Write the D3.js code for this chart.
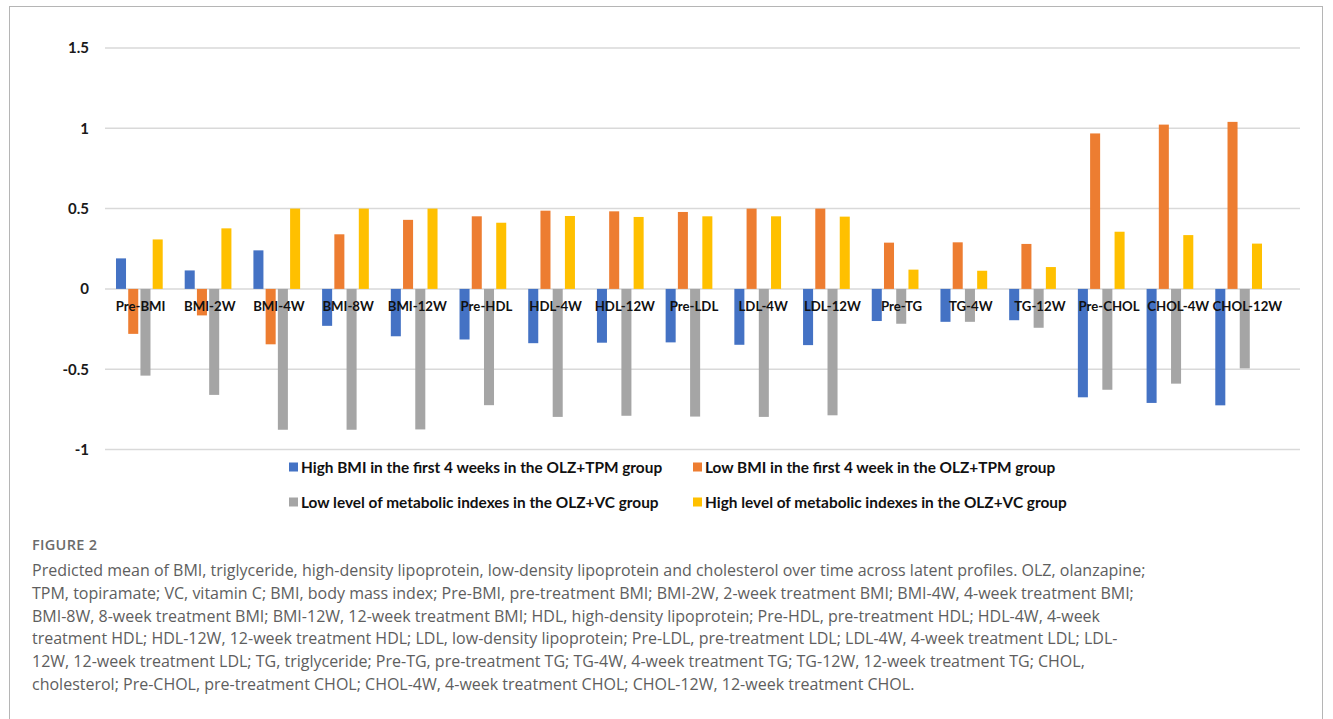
<!DOCTYPE html>
<html><head><meta charset="utf-8">
<script src="https://cdn.jsdelivr.net/npm/d3@7"></script>
<style>body{margin:0;background:#fff;} svg{display:block}</style>
</head><body><svg id="chart" width="1333" height="719"></svg>
<script>
const categories = ["Pre-BMI","BMI-2W","BMI-4W","BMI-8W","BMI-12W","Pre-HDL","HDL-4W","HDL-12W","Pre-LDL","LDL-4W","LDL-12W","Pre-TG","TG-4W","TG-12W","Pre-CHOL","CHOL-4W","CHOL-12W"];
const seriesNames = [
  "High BMI in the first 4 weeks in the OLZ+TPM group",
  "Low BMI in the first 4 week in the OLZ+TPM group",
  "Low level of metabolic indexes in the OLZ+VC group",
  "High level of metabolic indexes in the OLZ+VC group"
];
const highBmiTpm  = [0.19, 0.115, 0.24, -0.23, -0.295, -0.315, -0.338, -0.335, -0.333, -0.348, -0.35, -0.20, -0.205, -0.195, -0.675, -0.71, -0.725];
const lowBmiTpm   = [-0.28, -0.165, -0.345, 0.34, 0.43, 0.452, 0.487, 0.483, 0.479, 0.50, 0.50, 0.288, 0.29, 0.28, 0.968, 1.023, 1.04];
const lowMetabVc  = [-0.54, -0.66, -0.877, -0.877, -0.875, -0.724, -0.797, -0.79, -0.795, -0.797, -0.787, -0.217, -0.205, -0.242, -0.628, -0.59, -0.495];
const highMetabVc = [0.308, 0.377, 0.50, 0.50, 0.50, 0.412, 0.454, 0.448, 0.452, 0.452, 0.45, 0.12, 0.113, 0.136, 0.356, 0.335, 0.282];
const seriesColors = ["#4472C4", "#ED7D31", "#A5A5A5", "#FFC000"];
const yTicks = [-1, -0.5, 0, 0.5, 1, 1.5];
const yTickLabels = ["-1", "-0.5", "0", "0.5", "1", "1.5"];
const captionHead = "FIGURE 2";
const captionLines = [
  "Predicted mean of BMI, triglyceride, high-density lipoprotein, low-density lipoprotein and cholesterol over time across latent profiles. OLZ, olanzapine;",
  "TPM, topiramate; VC, vitamin C; BMI, body mass index; Pre-BMI, pre-treatment BMI; BMI-2W, 2-week treatment BMI; BMI-4W, 4-week treatment BMI;",
  "BMI-8W, 8-week treatment BMI; BMI-12W, 12-week treatment BMI; HDL, high-density lipoprotein; Pre-HDL, pre-treatment HDL; HDL-4W, 4-week",
  "treatment HDL; HDL-12W, 12-week treatment HDL; LDL, low-density lipoprotein; Pre-LDL, pre-treatment LDL; LDL-4W, 4-week treatment LDL; LDL-",
  "12W, 12-week treatment LDL; TG, triglyceride; Pre-TG, pre-treatment TG; TG-4W, 4-week treatment TG; TG-12W, 12-week treatment TG; CHOL,",
  "cholesterol; Pre-CHOL, pre-treatment CHOL; CHOL-4W, 4-week treatment CHOL; CHOL-12W, 12-week treatment CHOL."
];

const seriesValues = [highBmiTpm, lowBmiTpm, lowMetabVc, highMetabVc];
const data = categories.map((c, i) => ({cat: c, vals: seriesValues.map((s, k) => ({k, v: s[i]}))}));

const svg = d3.select("#chart");
const chartFont = "Lato, 'Liberation Sans', sans-serif";
const captionFont = "'Open Sans', Lato, sans-serif";

// outer frame
svg.append("rect").attr("x", 9.5).attr("y", 6.5).attr("width", 1313).attr("height", 760)
  .attr("fill", "none").attr("stroke", "#b5b5b5").attr("stroke-width", 1);

const x = d3.scaleBand().domain(categories).range([105, 1273]).paddingInner(0).paddingOuter(0);
const xLabel = d3.scaleBand().domain(categories).range([106, 1282]);
const xInner = d3.scaleBand().domain(d3.range(4))
  .range([x.bandwidth() * 0.16, x.bandwidth() * 0.84]).paddingInner(0.18).paddingOuter(0);
const y = d3.scaleLinear().domain([-1, 1.5]).range([449.5, 48]);

// gridlines
svg.append("g").selectAll("line").data(yTicks).join("line")
  .attr("x1", 105).attr("x2", 1300)
  .attr("y1", d => y(d)).attr("y2", d => y(d))
  .attr("stroke", "#d9d9d9").attr("stroke-width", 1.5);

// y axis labels via d3 axis
const yAxis = d3.axisLeft(y).tickValues(yTicks).tickSize(0).tickPadding(0)
  .tickFormat((d, i) => yTickLabels[i]);
const gy = svg.append("g").attr("transform", "translate(89,0)").call(yAxis);
gy.select(".domain").remove();
gy.selectAll("text").attr("font-family", chartFont).attr("font-weight", "bold")
  .attr("font-size", 15).attr("fill", "#1a1a1a");

// bars
const groups = svg.append("g").selectAll("g").data(data).join("g")
  .attr("transform", d => `translate(${x(d.cat)},0)`);
groups.selectAll("rect").data(d => d.vals).join("rect")
  .attr("x", d => xInner(d.k))
  .attr("width", xInner.bandwidth())
  .attr("y", d => y(Math.max(0, d.v)))
  .attr("height", d => Math.abs(y(d.v) - y(0)))
  .attr("fill", d => seriesColors[d.k]);

// category labels
svg.append("g").selectAll("text").data(categories).join("text")
  .attr("x", d => xLabel(d) + xLabel.bandwidth() / 2)
  .attr("y", 311)
  .attr("text-anchor", "middle")
  .attr("font-family", chartFont).attr("font-weight", "bold").attr("font-size", 13.2)
  .attr("fill", "#111")
  .text(d => d);

// legend
const legendPos = [[289, 467], [693, 467], [289, 502], [693, 502]];
const lg = svg.append("g").selectAll("g").data(seriesNames).join("g")
  .attr("transform", (d, i) => `translate(${legendPos[i][0]},${legendPos[i][1]})`);
lg.append("rect").attr("x", 0).attr("y", -4.5).attr("width", 9).attr("height", 9)
  .attr("fill", (d, i) => seriesColors[i]);
lg.append("text").attr("x", 12).attr("y", 5.5)
  .attr("font-family", chartFont).attr("font-weight", "bold").attr("font-size", 15.4)
  .attr("fill", "#111").text(d => d);

// caption
svg.append("text").attr("x", 32).attr("y", 550)
  .attr("font-family", captionFont).attr("font-size", 14.5).attr("font-weight", 600)
  .attr("letter-spacing", 0.3)
  .attr("fill", "#6b6b6b").text(captionHead);
svg.append("g").selectAll("text").data(captionLines).join("text")
  .attr("x", 32).attr("y", (d, i) => 576 + i * 22.8)
  .attr("font-family", captionFont).attr("font-size", 16)
  .attr("fill", "#5e5e5e").text(d => d);
</script>
</body></html>
